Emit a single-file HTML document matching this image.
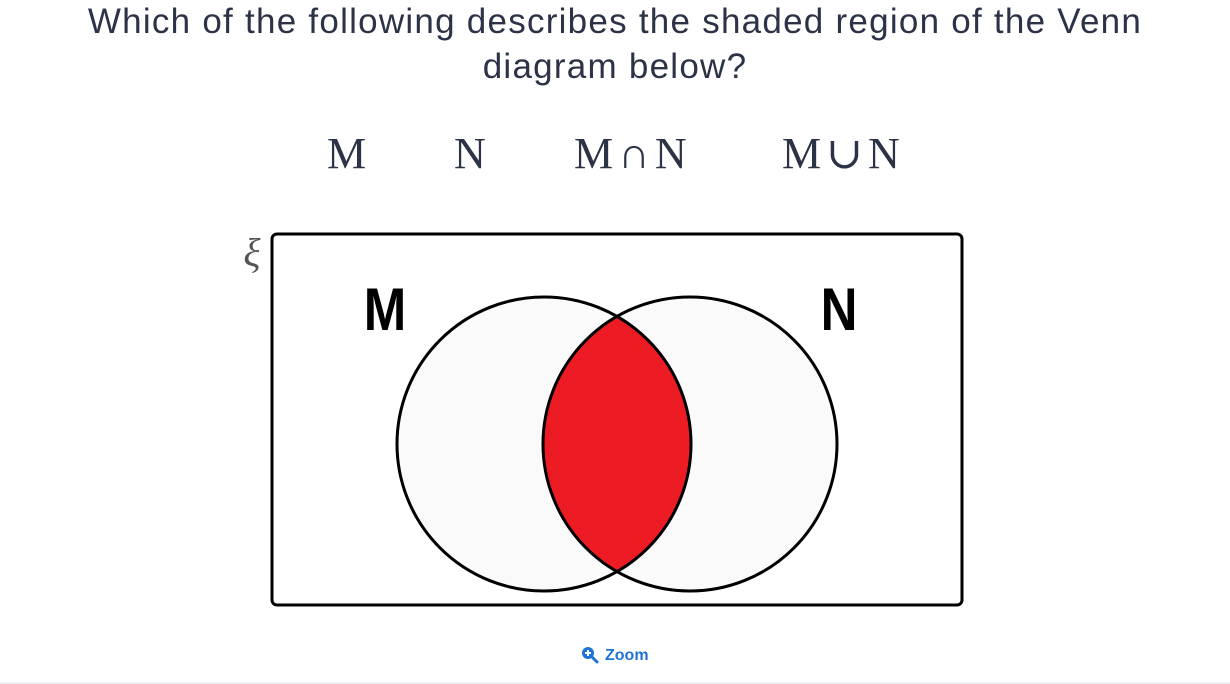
<!DOCTYPE html>
<html><head><meta charset="utf-8"><style>
html,body{margin:0;padding:0;background:#fff;width:1230px;height:684px;overflow:hidden;position:relative;font-family:"Liberation Sans",sans-serif}
.t{position:absolute;left:0;width:1230px;text-align:center;color:#2c3347;font-size:35px;letter-spacing:1.25px;line-height:45px}
.opt{position:absolute;top:128px;font-family:"Liberation Serif","DejaVu Serif",serif;font-size:44px;color:#2c3347;line-height:52px;white-space:nowrap}
.op{display:inline-block;margin:0 5px;font-weight:300}
</style></head><body>
<div class="t" style="top:-1px">Which of the following describes the shaded region of the Venn<br>diagram below?</div>
<div class="opt" style="left:327px">M</div>
<div class="opt" style="left:454px">N</div>
<div class="opt" style="left:574px">M<span class="op">∩</span>N</div>
<div class="opt" style="left:782px">M<span class="op">∪</span>N</div>
<svg width="1230" height="684" style="position:absolute;left:0;top:0">
<text x="252" y="266" font-family="Liberation Serif,DejaVu Serif,serif" font-style="italic" font-size="40" fill="#555" text-anchor="middle">ξ</text>
<rect x="272" y="234" width="690" height="371" rx="5" fill="#fff" stroke="#000" stroke-width="3"/>
<circle cx="544" cy="444" r="147" fill="#fafafa"/>
<circle cx="690" cy="444" r="147" fill="#fafafa"/>
<path d="M617,316.5 A147,147 0 0 1 617,571.5 A147,147 0 0 1 617,316.5 Z" fill="#ed1c24"/>
<circle cx="544" cy="444" r="147" fill="none" stroke="#000" stroke-width="3"/>
<circle cx="690" cy="444" r="147" fill="none" stroke="#000" stroke-width="3"/>
<text x="385" y="330" font-family="Liberation Sans Narrow,Liberation Sans,sans-serif" font-weight="bold" font-size="60" text-anchor="middle" transform="translate(385 330) scale(0.85 1) translate(-385 -330)">M</text>
<text x="839" y="330" font-family="Liberation Sans Narrow,Liberation Sans,sans-serif" font-weight="bold" font-size="60" text-anchor="middle" transform="translate(839 330) scale(0.85 1) translate(-839 -330)">N</text>
<g>
<circle cx="588" cy="653" r="6" fill="#1f73d8"/>
<line x1="592" y1="657" x2="597" y2="662" stroke="#1f73d8" stroke-width="3" stroke-linecap="round"/>
<line x1="585" y1="653" x2="591" y2="653" stroke="#fff" stroke-width="2"/>
<line x1="588" y1="650" x2="588" y2="656" stroke="#fff" stroke-width="2"/>
<text x="605" y="660" font-family="Liberation Sans,sans-serif" font-weight="bold" font-size="16" fill="#1f73d8">Zoom</text>
</g>
<line x1="0" y1="683" x2="1230" y2="683" stroke="#eef0f5" stroke-width="2"/>
</svg>
</body></html>
